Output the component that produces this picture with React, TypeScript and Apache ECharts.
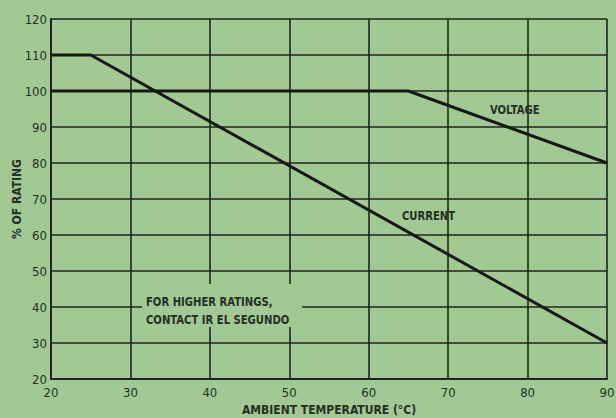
import React, { useEffect, useRef } from "react";
import * as echarts from "echarts";

const voltageX = [20, 65, 90];
const voltageY = [100, 100, 80];
const currentX = [20, 25, 90];
const currentY = [110, 110, 30];
const xTicks = [20, 30, 40, 50, 60, 70, 80, 90];
const yTicks = [20, 30, 40, 50, 60, 70, 80, 90, 100, 110, 120];

const BG = "#a2c993";
const INK = "#1c261c";
const TXT = "#243024";
const FONT = "'DejaVu Sans Condensed', 'Liberation Sans Narrow', sans-serif";

export default function App() {
  const ref = useRef<HTMLDivElement>(null);
  useEffect(() => {
    if (!ref.current) return;
    const chart = echarts.init(ref.current, null, { renderer: "svg" });
    const axisCommon = {
      type: "value" as const,
      interval: 10,
      axisLine: { show: true, lineStyle: { color: INK, width: 2 } },
      axisTick: { show: false },
      splitLine: { show: true, lineStyle: { color: INK, width: 1.6 } },
      axisLabel: { color: TXT, fontFamily: FONT, fontSize: 13 },
    };
    const label = (text: string, x: number, y: number) => ({
      type: "text", z: 11, x, y, scaleX: 0.86,
      style: { text, fill: TXT, font: `bold 13px ${FONT}`, lineHeight: 18 },
    });
    chart.setOption({
      animation: false,
      backgroundColor: BG,
      grid: { left: 51, right: 9, top: 19, bottom: 39, containLabel: false, outerBoundsMode: "none" },
      xAxis: {
        ...axisCommon,
        min: xTicks[0],
        max: xTicks[xTicks.length - 1],
        axisLabel: { ...axisCommon.axisLabel, margin: 7 },
        name: "AMBIENT TEMPERATURE (°C)",
        nameLocation: "middle",
        nameGap: 25,
        nameMoveOverlap: false,
        nameTextStyle: { color: TXT, fontFamily: FONT, fontSize: 12, fontWeight: "bold" },
      },
      yAxis: {
        ...axisCommon,
        min: yTicks[0],
        max: yTicks[yTicks.length - 1],
        axisLabel: { ...axisCommon.axisLabel, margin: 4 },
        name: "% OF RATING",
        nameLocation: "middle",
        nameGap: 28,
        nameMoveOverlap: false,
        nameTextStyle: { color: TXT, fontFamily: FONT, fontSize: 12, fontWeight: "bold" },
      },
      series: [
        {
          name: "VOLTAGE",
          type: "line",
          data: voltageX.map((x, i) => [x, voltageY[i]]),
          symbol: "none",
          lineStyle: { color: "#121a12", width: 3 },
          z: 5,
        },
        {
          name: "CURRENT",
          type: "line",
          data: currentX.map((x, i) => [x, currentY[i]]),
          symbol: "none",
          lineStyle: { color: "#121a12", width: 3 },
          z: 5,
        },
      ],
      graphic: [
        { type: "rect", z: 10, shape: { x: 142, y: 284, width: 160, height: 43 }, style: { fill: BG } },
        label("FOR HIGHER RATINGS,\nCONTACT IR EL SEGUNDO", 146, 293),
        label("VOLTAGE", 490, 101),
        label("CURRENT", 402, 207),
      ],
    });
    return () => chart.dispose();
  }, []);
  return <div ref={ref} style={{ width: 616, height: 418, position: "fixed", left: 0, top: 0 }} />;
}
